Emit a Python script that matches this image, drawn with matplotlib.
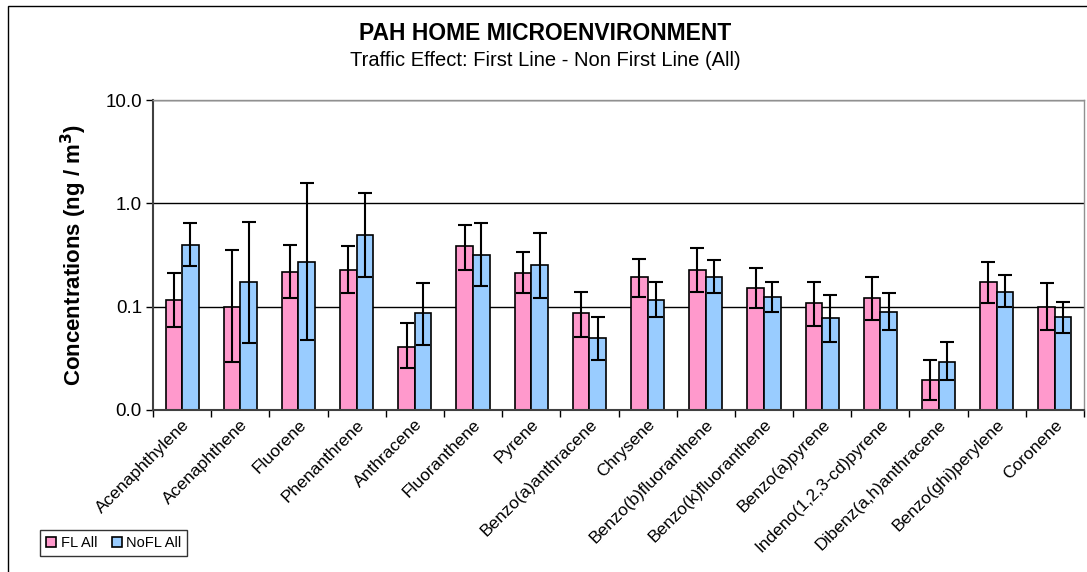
# PAH home microenvironment - traffic effect bar chart (log scale)
import numpy as np
import matplotlib.pyplot as plt
from matplotlib.patches import Rectangle

plt.rcParams['font.family'] = ['Liberation Sans', 'DejaVu Sans']

compounds = ['Acenaphthylene', 'Acenaphthene', 'Fluorene', 'Phenanthrene', 'Anthracene',
             'Fluoranthene', 'Pyrene', 'Benzo(a)anthracene', 'Chrysene', 'Benzo(b)fluoranthene',
             'Benzo(k)fluoranthene', 'Benzo(a)pyrene', 'Indeno(1,2,3-cd)pyrene',
             'Dibenz(a,h)anthracene', 'Benzo(ghi)perylene', 'Coronene']

fl = [0.116, 0.100, 0.218, 0.226, 0.041, 0.383, 0.212, 0.086, 0.195, 0.226,
      0.150, 0.108, 0.121, 0.0195, 0.174, 0.100]
fl_hi = [0.212, 0.355, 0.397, 0.383, 0.069, 0.619, 0.340, 0.140, 0.292, 0.366,
         0.235, 0.174, 0.195, 0.0305, 0.273, 0.168]
fl_lo = [0.064, 0.0294, 0.120, 0.135, 0.0253, 0.226, 0.135, 0.0513, 0.125, 0.140,
         0.0963, 0.0643, 0.0746, 0.0125, 0.108, 0.0596]

nofl = [0.397, 0.175, 0.273, 0.494, 0.086, 0.318, 0.255, 0.0494, 0.116, 0.195,
        0.125, 0.0769, 0.0894, 0.0294, 0.140, 0.0798]
nofl_hi = [0.643, 0.667, 1.57, 1.25, 0.168, 0.643, 0.513, 0.0798, 0.174, 0.284,
           0.174, 0.130, 0.135, 0.0458, 0.202, 0.112]
nofl_lo = [0.246, 0.0442, 0.0477, 0.195, 0.0426, 0.157, 0.121, 0.0305, 0.0798, 0.135,
           0.0894, 0.0458, 0.0596, 0.0196, 0.100, 0.0553]

fig = plt.figure(figsize=(10.87, 5.72), dpi=100)
ax = fig.add_axes([153/1087, 1-410/572, (1084-153)/1087, 310/572])

x = np.arange(len(compounds))
w = 0.285
base = 0.01
fl = np.array(fl); nofl = np.array(nofl)
ax.bar(x - w/2, fl - base, w, bottom=base, color='#ff99cc', edgecolor='black', lw=1.2, label='FL All', zorder=2)
ax.bar(x + w/2, nofl - base, w, bottom=base, color='#99ccff', edgecolor='black', lw=1.2, label='NoFL All', zorder=2)
ax.errorbar(x - w/2, fl, yerr=[fl - np.array(fl_lo), np.array(fl_hi) - fl], fmt='none',
            ecolor='black', elinewidth=1.5, capsize=5, capthick=1.5, zorder=3)
ax.errorbar(x + w/2, nofl, yerr=[nofl - np.array(nofl_lo), np.array(nofl_hi) - nofl], fmt='none',
            ecolor='black', elinewidth=1.5, capsize=5, capthick=1.5, zorder=3)

ax.set_yscale('log')
ax.set_ylim(0.01, 10)
ax.set_xlim(-0.5, len(compounds) - 0.5)
ax.set_yticks([0.01, 0.1, 1, 10])
ax.set_yticklabels(['0.0', '0.1', '1.0', '10.0'], fontsize=13.5)
ax.minorticks_off()
ax.yaxis.grid(True, color='black', lw=1)
ax.set_axisbelow(True)

ax.set_xticks(x)
ax.set_xticklabels(compounds, rotation=45, ha='right', rotation_mode='anchor', fontsize=12.5)
ax.tick_params(axis='x', length=0, pad=5)
ax.set_xticks(np.arange(len(compounds) + 1) - 0.5, minor=True)
ax.tick_params(axis='x', which='minor', length=5, direction='out', width=1)
ax.tick_params(axis='y', length=5, width=1, pad=3)

for s in ['left', 'bottom']:
    ax.spines[s].set_color('#404040')
    ax.spines[s].set_linewidth(1.5)
for s in ['top', 'right']:
    ax.spines[s].set_color('#909090')
    ax.spines[s].set_linewidth(1)

ax.set_ylabel('Concentrations (ng / m$^{\\mathbf{3}}$)', fontsize=16, fontweight='bold', labelpad=12)

fig.text(0.5015, 1-33/572, 'PAH HOME MICROENVIRONMENT', ha='center', va='center', fontsize=16.5, fontweight='bold')
fig.text(0.5015, 1-61/572, 'Traffic Effect: First Line - Non First Line (All)', ha='center', va='center', fontsize=14.5)

fig.legend(loc='lower left', bbox_to_anchor=(33/1087, 1-563/572), ncol=2, fontsize=10.5,
           frameon=True, fancybox=False, edgecolor='black', handlelength=0.7, handleheight=0.7,
           handletextpad=0.3, columnspacing=1.0, borderpad=0.4)

fig.patches.append(Rectangle((8/1087, -0.1), 1.1, 1.1 - 6/572, transform=fig.transFigure,
                             fill=False, edgecolor='black', lw=1))

fig.savefig('out.png', dpi=100)
